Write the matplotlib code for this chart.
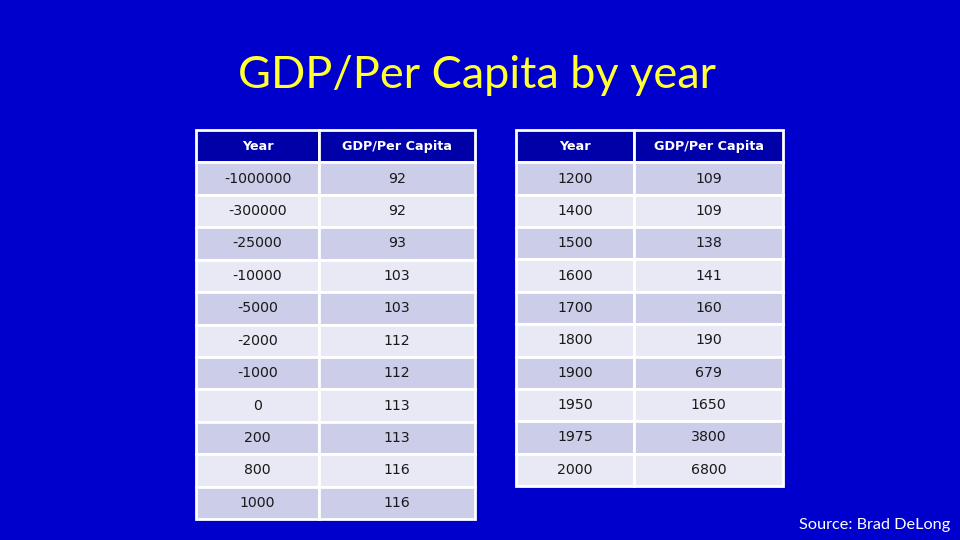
import matplotlib.pyplot as plt

headers = ["Year", "GDP/Per Capita"]
left_years = ["-1000000", "-300000", "-25000", "-10000", "-5000", "-2000",
              "-1000", "0", "200", "800", "1000"]
left_gdp = ["92", "92", "93", "103", "103", "112", "112", "113", "113", "116", "116"]
right_years = ["1200", "1400", "1500", "1600", "1700", "1800", "1900",
               "1950", "1975", "2000"]
right_gdp = ["109", "109", "138", "141", "160", "190", "679", "1650", "3800", "6800"]

bg = '#0000CC'
head_col = '#0000A8'
row_a = '#CBCDE9'
row_b = '#E8E9F5'

fig = plt.figure(figsize=(9.6, 5.4), dpi=100, facecolor=bg)
ax = fig.add_axes([0, 0, 1, 1])
ax.axis('off')


def draw_table(years, gdp, bbox, widths):
    rows = [[y, g] for y, g in zip(years, gdp)]
    tb = ax.table(cellText=rows, colLabels=headers, colWidths=widths,
                  cellLoc='center', bbox=bbox)
    tb.auto_set_font_size(False)
    for (r, c), cell in tb.get_celld().items():
        cell.set_edgecolor('white')
        cell.set_linewidth(2)
        txt = cell.get_text()
        if r == 0:
            cell.set_facecolor(head_col)
            txt.set_color('white')
            txt.set_fontweight('bold')
            txt.set_fontsize(9.2)
        else:
            cell.set_facecolor(row_a if r % 2 == 1 else row_b)
            txt.set_color('#1a1a1a')
            txt.set_fontsize(10.2)
    return tb


draw_table(left_years, left_gdp, [196 / 960, 1 - 519 / 540, 279 / 960, 389 / 540], [123, 156])
draw_table(right_years, right_gdp, [516 / 960, 1 - 486 / 540, 267 / 960, 356 / 540], [118, 149])

fig.text(0.497, 1 - 76 / 540, "GDP/Per Capita by year", color='#FFFF33',
         fontsize=32.5, family='Lato', ha='center', va='center')
fig.text(950 / 960, 1 - 525 / 540, "Source: Brad DeLong", color='white',
         fontsize=11.7, family='Lato', ha='right', va='center')

fig.savefig('out.png', dpi=100, facecolor=bg)
